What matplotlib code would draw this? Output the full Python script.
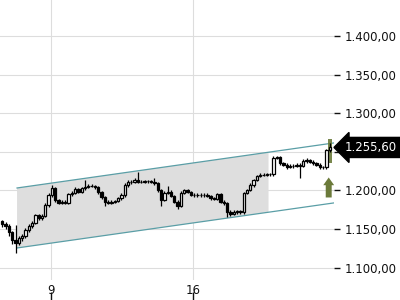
import numpy as np
import matplotlib
matplotlib.use('Agg')
import matplotlib.pyplot as plt
from matplotlib.ticker import FuncFormatter
from matplotlib.patches import FancyArrow
import matplotlib.transforms as mtransforms

# candle data (hourly-ish bars, index based x)
opens = [1160.0, 1156.5, 1153.9, 1146.1, 1135.7, 1131.9, 1138.3, 1140.9, 1148.7, 1153.9,
         1157.8, 1168.1, 1164.2, 1166.8, 1181.1, 1194.0, 1203.1, 1187.6, 1183.7, 1185.0,
         1183.7, 1195.3, 1196.6, 1201.8, 1197.9, 1203.1, 1204.4, 1205.7, 1205.7, 1204.4,
         1197.9, 1191.4, 1185.0, 1183.7, 1185.0, 1186.3, 1190.1, 1194.0, 1207.0, 1210.9,
         1210.9, 1213.5, 1210.9, 1210.9, 1212.2, 1212.2, 1210.9, 1209.6, 1200.5, 1187.6,
         1196.6, 1197.9, 1192.7, 1185.0, 1179.8, 1196.6, 1200.5, 1197.9, 1194.0, 1194.0,
         1194.0, 1194.0, 1194.0, 1192.7, 1190.1, 1188.9, 1195.3, 1185.0, 1183.7, 1172.0,
         1169.4, 1172.0, 1173.3, 1172.0, 1196.6, 1200.5, 1207.0, 1213.5, 1218.6, 1219.9,
         1219.9, 1221.2, 1221.2, 1242.0, 1243.3, 1235.5, 1232.9, 1230.3, 1231.6, 1231.6,
         1232.9, 1231.6, 1238.1, 1239.4, 1236.8, 1235.5, 1232.9, 1230.3, 1230.3, 1252.3]
closes = [1156.5, 1153.9, 1146.1, 1135.7, 1131.9, 1138.3, 1140.9, 1148.7, 1153.9, 1157.8,
          1168.1, 1164.2, 1166.8, 1181.1, 1194.0, 1203.1, 1187.6, 1183.7, 1185.0, 1183.7,
          1195.3, 1196.6, 1201.8, 1197.9, 1203.1, 1204.4, 1205.7, 1205.7, 1204.4, 1197.9,
          1191.4, 1185.0, 1183.7, 1185.0, 1186.3, 1190.1, 1194.0, 1207.0, 1210.9, 1210.9,
          1213.5, 1210.9, 1210.9, 1212.2, 1212.2, 1210.9, 1209.6, 1200.5, 1187.6, 1196.6,
          1197.9, 1192.7, 1185.0, 1179.8, 1196.6, 1200.5, 1197.9, 1194.0, 1194.0, 1194.0,
          1194.0, 1194.0, 1192.7, 1190.1, 1188.9, 1195.3, 1185.0, 1183.7, 1172.0, 1169.4,
          1172.0, 1173.3, 1172.0, 1196.6, 1200.5, 1207.0, 1213.5, 1218.6, 1219.9, 1219.9,
          1221.2, 1221.2, 1242.0, 1243.3, 1235.5, 1232.9, 1230.3, 1231.6, 1231.6, 1232.9,
          1231.6, 1238.1, 1239.4, 1236.8, 1235.5, 1232.9, 1230.3, 1230.3, 1252.3, 1255.6]
highs = [1162, 1159, 1156, 1148, 1155, 1141, 1144, 1151, 1156, 1160,
         1170, 1170, 1169, 1183, 1196, 1207, 1205, 1189, 1187, 1187,
         1197, 1199, 1204, 1203, 1205, 1213, 1208, 1208, 1207, 1206,
         1199, 1193, 1187, 1187, 1188, 1192, 1196, 1209, 1214, 1213,
         1216, 1224, 1213, 1214, 1214, 1214, 1216, 1211, 1202, 1199,
         1206, 1200, 1194, 1187, 1199, 1202, 1202, 1199, 1196, 1196,
         1196, 1196, 1196, 1194, 1192, 1197, 1197, 1187, 1185, 1174,
         1174, 1175, 1175, 1198, 1202, 1209, 1215, 1220, 1222, 1222,
         1223, 1223, 1244, 1245, 1245, 1237, 1235, 1234, 1234, 1235,
         1235, 1240, 1242, 1241, 1239, 1237, 1235, 1232, 1254, 1261]
lows = [1152, 1150, 1141, 1130, 1119, 1129, 1135, 1138, 1146, 1151,
        1156, 1162, 1162, 1165, 1179, 1192, 1185, 1182, 1182, 1182,
        1182, 1193, 1195, 1196, 1196, 1201, 1203, 1204, 1202, 1195,
        1189, 1180, 1182, 1182, 1184, 1185, 1188, 1192, 1205, 1208,
        1209, 1209, 1209, 1209, 1210, 1209, 1207, 1198, 1180, 1186,
        1195, 1191, 1183, 1176, 1178, 1195, 1196, 1193, 1192, 1192,
        1192, 1192, 1191, 1188, 1187, 1187, 1183, 1181, 1166, 1167,
        1168, 1170, 1170, 1170, 1195, 1199, 1205, 1212, 1217, 1218,
        1218, 1219, 1219, 1240, 1233, 1231, 1228, 1229, 1229, 1230,
        1216, 1230, 1236, 1235, 1233, 1231, 1228, 1228, 1228, 1250]

# trend channel (start/end of lines, shaded part ends earlier)
chan_x = [4.45, 100.2]
chan_upper = [1203.1, 1261.4]
chan_lower = [1125.4, 1183.7]
shade_end = 80.5

xtick_pos = [14.75, 57.8]
xtick_labels = ['9', '16']
yticks = [1100, 1150, 1200, 1250, 1300, 1350, 1400]

last_price = closes[-1]
olive = '#6b7a3a'


def de_format(v, pos=None):
    s = '{:,.2f}'.format(v)
    return s.replace(',', 'X').replace('.', ',').replace('X', '.')


def tick_format(v, pos=None):
    # the label under the price tag is hidden
    if abs(v - last_price) < 20:
        return ''
    return de_format(v)


def main():
    fig = plt.figure(figsize=(4, 3), dpi=100)
    ax = fig.add_axes([0, 20 / 300, 334 / 400, 280 / 300])

    x = np.arange(len(closes))
    o = np.array(opens)
    c = np.array(closes)

    ax.set_xlim(-0.7, 100.3)
    ax.set_ylim(1083.9, 1446.6)

    # channel
    up_end = np.interp(shade_end, chan_x, chan_upper)
    lo_end = np.interp(shade_end, chan_x, chan_lower)
    ax.fill([chan_x[0], shade_end, shade_end, chan_x[0]],
            [chan_upper[0], up_end, lo_end, chan_lower[0]],
            color='#dedede', zorder=1, lw=0)
    ax.plot(chan_x, chan_upper, color='#5a9ea6', lw=0.9, zorder=2)
    ax.plot(chan_x, chan_lower, color='#5a9ea6', lw=0.9, zorder=2)

    # highlight behind last candle
    ax.bar(x[-1], 31, bottom=1235, width=1.2, color=olive, alpha=0.9, zorder=2)

    # candles
    ax.vlines(x, lows, highs, color='black', lw=0.9, zorder=3)
    up = c >= o
    ax.bar(x[up], np.maximum(c[up] - o[up], 0.3), bottom=o[up], width=0.7,
           color='white', edgecolor='black', lw=0.9, zorder=4)
    ax.bar(x[~up], o[~up] - c[~up], bottom=c[~up], width=0.7,
           color='black', edgecolor='black', lw=0.9, zorder=4)

    # signal arrow
    ax.add_patch(FancyArrow(x[-1] - 0.3, 1190.8, 0, 25.9, width=1.8, head_width=3.3,
                            head_length=10, length_includes_head=True,
                            color=olive, lw=0, zorder=5))

    # grid / axes
    ax.set_yticks(yticks)
    ax.yaxis.set_major_formatter(FuncFormatter(tick_format))
    ax.yaxis.tick_right()
    ax.set_xticks(xtick_pos)
    ax.set_xticklabels(xtick_labels)
    ax.grid(True, color='#dddddd', lw=0.8, zorder=0)
    ax.set_axisbelow(True)
    for sp in ax.spines.values():
        sp.set_visible(False)
    ax.tick_params(axis='y', length=4, width=1, pad=4, labelsize=8.5, colors='#111111')
    ax.tick_params(axis='x', length=0, pad=3, labelsize=8.5, colors='#111111')

    sec = ax.secondary_xaxis(-20 / 280)
    sec.set_xticks(xtick_pos)
    sec.set_xticklabels([])
    sec.tick_params(direction='in', length=6, width=1, color='#111111')
    for sp in sec.spines.values():
        sp.set_visible(False)

    # last price tag
    trans = mtransforms.blended_transform_factory(ax.transAxes, ax.transData)
    ax.text(1.033, last_price, de_format(last_price), transform=trans, ha='left',
            va='center', color='white', fontsize=8.5,
            bbox=dict(boxstyle='larrow,pad=0.3', fc='black', ec='black'),
            clip_on=False, zorder=6)

    fig.savefig('out.png', dpi=100)


if __name__ == '__main__':
    main()
